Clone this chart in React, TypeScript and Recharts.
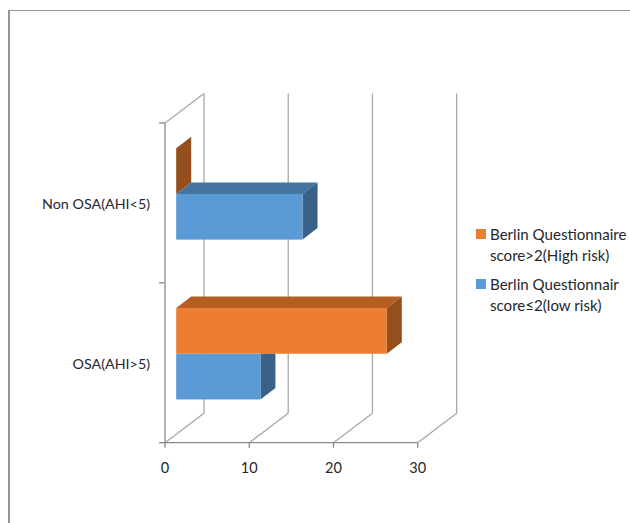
import React from 'react';
import { BarChart, Bar, XAxis, YAxis, CartesianGrid, Legend } from 'recharts';

const categories = ['Non OSA(AHI<5)', 'OSA(AHI>5)'];
const highRisk = [0, 25];
const lowRisk = [15, 10];
const xTicks = [0, 10, 20, 30];
const highRiskLabel = ['Berlin Questionnaire', 'score>2(High risk)'];
const lowRiskLabel = ['Berlin Questionnair', 'score≤2(low risk)'];

const rows = categories.map((name, i) => ({ name, high: highRisk[i], low: lowRisk[i] }));

const W = 630;
const H = 523;
const PLOT_LEFT = 165;
const PLOT_TOP = 123;
const PLOT_RIGHT = 417.7;
const PLOT_BOTTOM = 442.7;
const WALL_DX = 39;
const WALL_DY = 29.5;
const BAR_SHIFT_X = 11.2;
const BAR_SHIFT_Y = 8.8;
const BAR_DX = 15;
const BAR_DY = 11.5;
const LEGEND_W = 157;
const AXIS = '#8a8a8a';
const GRID = '#a8a8a8';
const TEXT = '#24272c';
const FONT = 'Lato, Carlito, sans-serif';

const ORANGE = { front: '#ED7D31', top: '#B55E22', side: '#954F1C' };
const BLUE = { front: '#5B9BD5', top: '#44759F', side: '#38628A' };

const poly = (pts: number[][]) => 'M' + pts.map((p) => p.join(',')).join('L') + 'Z';

const box3d = (c: typeof ORANGE, hiddenAbove: (p: any) => boolean) => (props: any) => {
  const x = props.x + BAR_SHIFT_X;
  const y = props.y - BAR_SHIFT_Y;
  const w = props.width;
  const h = props.height;
  const hide = hiddenAbove(props.payload);
  const sideTop = hide ? y : y - BAR_DY;
  return (
    <g>
      {!hide && (
        <path d={poly([[x, y], [x + BAR_DX, y - BAR_DY], [x + w + BAR_DX, y - BAR_DY], [x + w, y]])} fill={c.top} />
      )}
      <path d={poly([[x + w, y], [x + w + BAR_DX, sideTop], [x + w + BAR_DX, y + h - BAR_DY], [x + w, y + h]])} fill={c.side} />
      {w > 0 && <rect x={x} y={y} width={w} height={h} fill={c.front} />}
    </g>
  );
};

const wallLine = (props: any) => {
  const { x1, y1, y2, index } = props;
  return (
    <g key={`wall-${index}`} fill="none" stroke={GRID} strokeWidth={1.3}>
      <line x1={x1 + WALL_DX} y1={y1 - WALL_DY} x2={x1 + WALL_DX} y2={y2 - WALL_DY} />
      <line x1={x1} y1={y2} x2={x1 + WALL_DX} y2={y2 - WALL_DY} />
      {index === 0 && <line x1={x1} y1={y1} x2={x1 + WALL_DX} y2={y1 - WALL_DY} />}
    </g>
  );
};

const categoryTick = (props: any) => {
  const { x, y, payload, index } = props;
  const half = (PLOT_BOTTOM - PLOT_TOP) / categories.length / 2;
  return (
    <g>
      <text x={x - 7} y={y + 6.5} textAnchor="end" fontFamily={FONT} fontSize={14.3} fill={TEXT}>
        {payload.value}
      </text>
      <line x1={PLOT_LEFT - 6} x2={PLOT_LEFT} y1={y - half} y2={y - half} stroke={AXIS} strokeWidth={1.3} />
      {index === categories.length - 1 && (
        <line x1={PLOT_LEFT - 6} x2={PLOT_LEFT} y1={y + half} y2={y + half} stroke={AXIS} strokeWidth={1.3} />
      )}
    </g>
  );
};

const legendEntries = [
  { label: highRiskLabel, color: ORANGE.front },
  { label: lowRiskLabel, color: BLUE.front },
];

const legendContent = () => (
  <div style={{ fontFamily: FONT, fontSize: 15.1, lineHeight: '20.5px', color: TEXT, width: LEGEND_W }}>
    {legendEntries.map((e) => (
      <div key={e.label[0]} style={{ position: 'relative', paddingLeft: 17, marginBottom: 9, whiteSpace: 'nowrap' }}>
        <span style={{ position: 'absolute', left: 3, top: 5, width: 10, height: 10, background: e.color }} />
        {e.label.map((l) => (
          <div key={l}>{l}</div>
        ))}
      </div>
    ))}
  </div>
);

export default function App() {
  return (
    <div style={{ position: 'absolute', left: 0, top: 0, width: W, height: H, overflow: 'hidden', background: '#fff' }}>
      <div
        style={{
          position: 'absolute',
          left: 8,
          top: 10,
          right: 0,
          bottom: 0,
          borderLeft: '2px solid #949494',
          borderTop: '1.5px solid #949494',
        }}
      />
      <div style={{ position: 'absolute', left: 0, top: 0 }}>
        <BarChart
          width={W}
          height={H}
          data={rows}
          layout="vertical"
          barSize={45.7}
          barGap={0}
          margin={{ top: PLOT_TOP, left: 0, right: W - PLOT_RIGHT - LEGEND_W, bottom: H - PLOT_BOTTOM - 35 }}
        >
          <CartesianGrid horizontal={false} vertical={wallLine} />
          <XAxis
            type="number"
            domain={[0, 30]}
            ticks={xTicks}
            height={35}
            tickSize={5}
            tickMargin={15}
            axisLine={{ stroke: AXIS, strokeWidth: 1.3 }}
            tickLine={{ stroke: AXIS, strokeWidth: 1.3 }}
            tick={{ fontFamily: FONT, fontSize: 14.5, fill: TEXT }}
          />
          <YAxis
            type="category"
            dataKey="name"
            width={PLOT_LEFT}
            axisLine={{ stroke: AXIS, strokeWidth: 1.3 }}
            tickLine={false}
            interval={0}
            tick={categoryTick}
          />
          <Legend
            layout="vertical"
            align="right"
            verticalAlign="top"
            content={legendContent}
            wrapperStyle={{ left: 473, right: 'auto', top: 224, width: LEGEND_W }}
          />
          <Bar
            dataKey="high"
            name={highRiskLabel.join(' ')}
            fill={ORANGE.front}
            isAnimationActive={false}
            shape={box3d(ORANGE, () => false)}
          />
          <Bar
            dataKey="low"
            name={lowRiskLabel.join(' ')}
            fill={BLUE.front}
            isAnimationActive={false}
            shape={box3d(BLUE, (p) => p.high > p.low)}
          />
        </BarChart>
      </div>
    </div>
  );
}
